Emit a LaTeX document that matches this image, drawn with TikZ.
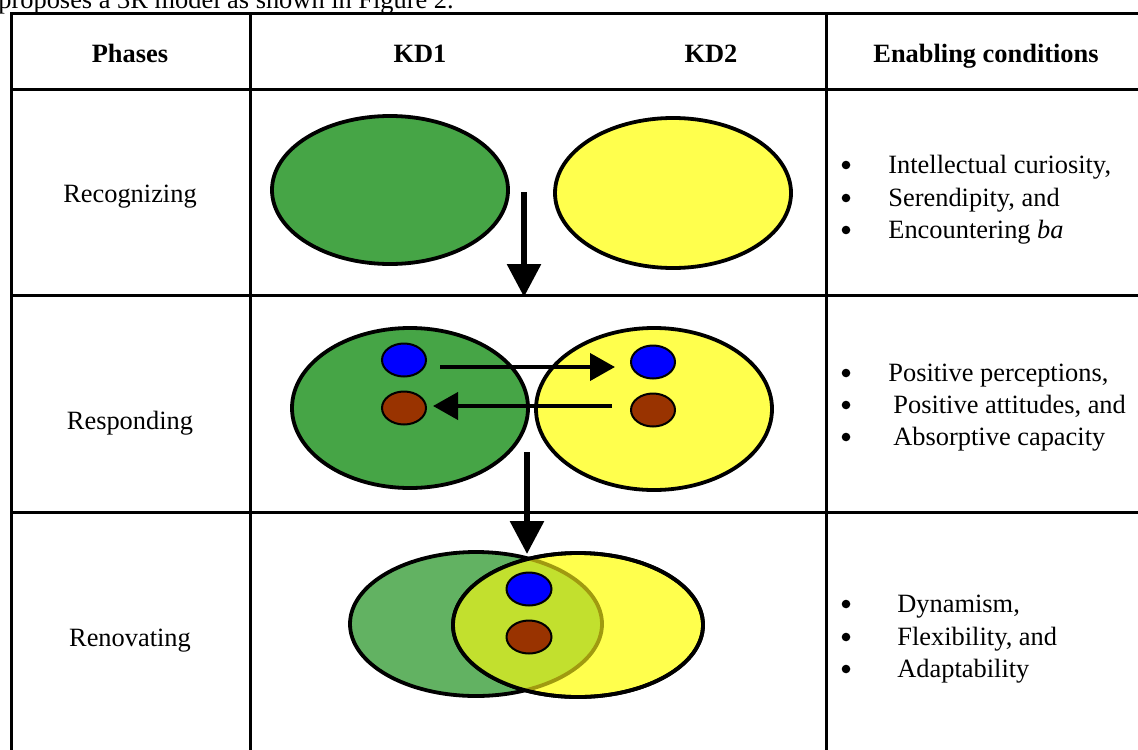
\documentclass[tikz,border=0pt]{standalone}
\usepackage{fontspec}
\setmainfont{Liberation Serif}
\usetikzlibrary{shapes.geometric,arrows.meta}
\definecolor{kgreen}{HTML}{46A546}
\definecolor{kgreenl}{HTML}{62B262}
\definecolor{kyellow}{HTML}{FFFF4D}
\definecolor{kover}{HTML}{C2E02E}
\definecolor{kolive}{HTML}{A09A10}
\definecolor{kblue}{HTML}{0000FF}
\definecolor{kbrown}{HTML}{993300}
\tikzset{
  grid/.style={line width=1.5pt},
  txt/.style={font=\fontsize{13.2}{16.5}\selectfont, inner sep=0pt, anchor=base},
  hdr/.style={txt, font=\fontsize{13.2}{16.5}\selectfont\bfseries},
  itemtxt/.style={txt, anchor=base west},
  bul/.style={circle, fill=black, inner sep=0pt, minimum size=4.3pt},
  bigell/.style={ellipse, draw, line width=1.9pt, inner sep=0pt},
  smallell/.style={ellipse, draw, line width=1pt, inner sep=0pt, minimum width=22pt, minimum height=16.5pt},
  downarrow/.style={line width=3pt, -{Triangle[length=16.5pt,width=16.5pt]}},
  sidearrow/.style={line width=2pt, -{Triangle[length=12.5pt,width=13.5pt]}}
}
\begin{document}
\begin{tikzpicture}[x=0.5pt,y=-0.5pt]
\useasboundingbox (0,0) rectangle (1138,749);
\clip (0,0) rectangle (1138,749);
% top running text
\node[txt, anchor=base west] (running) at (-2,8.5) {proposes a 3R model as shown in Figure 2.};
% table grid
\draw[grid] (11,760) -- (11,13.5) -- (1145,13.5);
\draw[grid] (11,90) -- (1145,90);
\draw[grid] (11,295) -- (1145,295);
\draw[grid] (11,512.5) -- (1145,512.5);
\draw[grid] (250,13.5) -- (250,760);
\draw[grid] (826,13.5) -- (826,760);
% headers
\node[hdr] (hphase) at (130,63) {Phases};
\node[hdr] (hkd1) at (420,63) {KD1};
\node[hdr] (hkd2) at (711,63) {KD2};
\node[hdr] (hcond) at (986,63) {Enabling conditions};
% row labels
\node[txt] (lrec) at (130,202) {Recognizing};
\node[txt] (lres) at (130,429) {Responding};
\node[txt] (lren) at (130,646) {Renovating};
% row 1
\node[bigell, fill=kgreen, minimum width=118pt, minimum height=74pt] (g1) at (390,190) {};
\node[bigell, fill=kyellow, minimum width=118pt, minimum height=75pt] (y1) at (673,193) {};
\coordinate (a1s) at (524,192);
\coordinate (a1e) at (524,297);
\draw[downarrow] (a1s) -- (a1e);
% row 2
\node[bigell, fill=kgreen, minimum width=118pt, minimum height=80pt] (g2) at (410,408) {};
\node[bigell, fill=kyellow, minimum width=118pt, minimum height=81pt] (y2) at (654,409) {};
\node[smallell, fill=kblue] (b2l) at (404,360) {};
\node[smallell, fill=kbrown] (r2l) at (404,408) {};
\node[smallell, fill=kblue] (b2r) at (653,362) {};
\node[smallell, fill=kbrown] (r2r) at (653,410) {};
\coordinate (a2s) at (440,367);
\coordinate (a2e) at (615,367);
\coordinate (a3s) at (612,406);
\coordinate (a3e) at (433,406);
\draw[sidearrow] (a2s) -- (a2e);
\draw[sidearrow] (a3s) -- (a3e);
\coordinate (a4s) at (527,452);
\coordinate (a4e) at (527,554);
\draw[downarrow] (a4s) -- (a4e);
% row 3
\node[bigell, fill=kgreenl, minimum width=126pt, minimum height=72pt] (g3) at (476,624) {};
\node[bigell, fill=kyellow, minimum width=125pt, minimum height=72pt] (y3) at (578,625) {};
\begin{scope}
  \clip (578,625) ellipse (62.5pt and 36pt);
  \fill[kover] (476,624) ellipse (63pt and 36pt);
  \draw[kolive, line width=1.9pt] (476,624) ellipse (63pt and 36pt);
\end{scope}
\draw[line width=1.9pt] (578,625) ellipse (62.5pt and 36pt);
\node[smallell, fill=kblue, minimum width=22.5pt] (b3) at (529,589) {};
\node[smallell, fill=kbrown, minimum width=22.5pt] (r3) at (529,637) {};
% enabling conditions row 1
\node[bul] (p11) at (846,165) {};
\node[itemtxt] (t11) at (888,173) {Intellectual curiosity,};
\node[bul] (p12) at (846,198) {};
\node[itemtxt] (t12) at (888,206) {Serendipity, and};
\node[bul] (p13) at (846,230) {};
\node[itemtxt] (t13) at (888,238) {Encountering \textit{ba}};
% row 2
\node[bul] (p21) at (846,373) {};
\node[itemtxt] (t21) at (888,381) {Positive perceptions,};
\node[bul] (p22) at (846,405) {};
\node[itemtxt] (t22) at (893,413) {Positive attitudes, and};
\node[bul] (p23) at (846,437) {};
\node[itemtxt] (t23) at (893,445) {Absorptive capacity};
% row 3
\node[bul] (p31) at (846,604) {};
\node[itemtxt] (t31) at (897,612) {Dynamism,};
\node[bul] (p32) at (846,637) {};
\node[itemtxt] (t32) at (897,645) {Flexibility, and};
\node[bul] (p33) at (846,669) {};
\node[itemtxt] (t33) at (897,677) {Adaptability};
\end{tikzpicture}
\end{document}
